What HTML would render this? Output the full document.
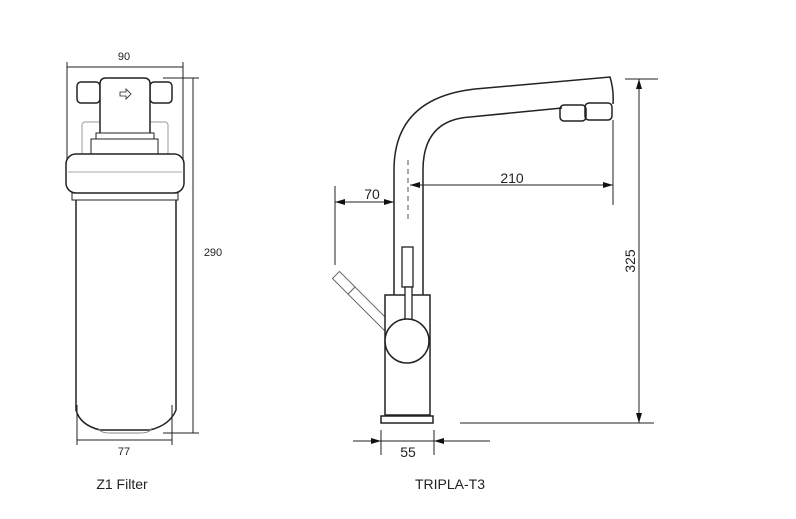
<!DOCTYPE html>
<html><head><style>body{margin:0;background:#fff}svg{display:block}text{font-family:"Liberation Sans","DejaVu Sans",sans-serif;fill:#222}</style></head><body>
<svg width="796" height="519" viewBox="0 0 796 519" xmlns="http://www.w3.org/2000/svg">
<defs><marker id="a" viewBox="0 0 10 6" refX="10" refY="3" markerWidth="10" markerHeight="6" orient="auto-start-reverse"><path d="M0,0L10,3L0,6z" fill="#111"/></marker></defs>
<g fill="none" stroke="#222" stroke-width="1">
<line x1="67" y1="67" x2="183" y2="67"/>
<line x1="67" y1="62" x2="67" y2="160"/>
<line x1="183" y1="62" x2="183" y2="160"/>
<line x1="163" y1="78" x2="199" y2="78"/>
<line x1="193" y1="78" x2="193" y2="433"/>
<line x1="163" y1="433" x2="199" y2="433"/>
<line x1="77" y1="440" x2="172" y2="440"/>
<line x1="77" y1="405" x2="77" y2="445"/>
<line x1="172" y1="405" x2="172" y2="445"/>
<rect x="82" y="122" width="86" height="35" rx="3" stroke="#999"/>
<rect x="77" y="82" width="23" height="21" rx="4" stroke-width="1.5"/>
<rect x="150" y="82" width="22" height="21" rx="4" stroke-width="1.5"/>
<path d="M100,133 V84 Q100,78 106,78 H144 Q150,78 150,84 V133" stroke-width="1.5" fill="#fff"/>
<path d="M120,92h6v-3l5,5l-5,5v-3h-6z" stroke-width="0.8"/>
<rect x="96" y="133" width="58" height="6" fill="#fff"/>
<rect x="91" y="139" width="67" height="15" fill="#fff"/>
<rect x="66" y="154" width="118" height="39" rx="10" stroke-width="1.5" fill="#fff"/>
<line x1="68" y1="172" x2="182" y2="172" stroke="#aaa"/>
<rect x="72" y="193" width="106" height="7"/>
<path d="M76,200 V410 Q80,425 100,430 H150 Q170,425 176,410 V200" stroke-width="1.5"/>
<path d="M98,428 Q100,433 110,433 H140 Q150,433 152,428" stroke="#888"/>
<line x1="335" y1="186" x2="335" y2="265"/>
<line x1="335" y1="202" x2="394" y2="202" marker-start="url(#a)" marker-end="url(#a)"/>
<line x1="408" y1="160" x2="408" y2="222" stroke-dasharray="5,4" stroke="#555"/>
<line x1="410" y1="185" x2="613" y2="185" marker-start="url(#a)" marker-end="url(#a)"/>
<line x1="613" y1="120" x2="613" y2="205"/>
<line x1="625" y1="79" x2="658" y2="79"/>
<line x1="639" y1="79" x2="639" y2="423" marker-start="url(#a)" marker-end="url(#a)"/>
<line x1="460" y1="423" x2="654" y2="423"/>
<line x1="381" y1="430" x2="381" y2="455"/>
<line x1="434" y1="430" x2="434" y2="455"/>
<line x1="353" y1="441" x2="381" y2="441" marker-end="url(#a)"/>
<line x1="381" y1="441" x2="434" y2="441"/>
<line x1="490" y1="441" x2="434" y2="441" marker-end="url(#a)"/>
<path d="M394,300 V170 Q394,98 475,89 L610,77 Q614,90 613,104 M423,300 V170 Q423,120 470,117 L562,108" stroke-width="1.5"/>
<rect x="560" y="105" width="26" height="16" rx="4" stroke-width="1.5"/>
<rect x="585" y="103" width="27" height="17" rx="4" stroke-width="1.5"/>
<g transform="rotate(45 336 275)"><rect x="336" y="270" width="22" height="10" stroke="#666"/><rect x="358" y="270" width="55" height="10" stroke="#666" fill="#fff"/></g>
<rect x="385" y="295" width="45" height="120" stroke-width="1.5" fill="#fff"/>
<rect x="402" y="247" width="11" height="40" stroke-width="1.3" fill="#fff"/>
<rect x="405" y="287" width="7" height="33" stroke-width="1.3" fill="#fff"/>
<circle cx="407" cy="341" r="22" stroke-width="1.5" fill="#fff"/>
<rect x="381" y="416" width="52" height="7" stroke-width="1.5"/>
</g>
<text x="124" y="60" font-size="11" text-anchor="middle">90</text>
<text x="213" y="256" font-size="11" text-anchor="middle">290</text>
<text x="124" y="455" font-size="11" text-anchor="middle">77</text>
<text x="122" y="489" font-size="14" text-anchor="middle">Z1 Filter</text>
<text x="372" y="199" font-size="14" text-anchor="middle">70</text>
<text x="512" y="183" font-size="14" text-anchor="middle">210</text>
<text x="408" y="457" font-size="14" text-anchor="middle">55</text>
<text transform="translate(635,261) rotate(-90)" font-size="14" text-anchor="middle">325</text>
<text x="450" y="489" font-size="14" text-anchor="middle">TRIPLA-T3</text>
</svg>
</body></html>
